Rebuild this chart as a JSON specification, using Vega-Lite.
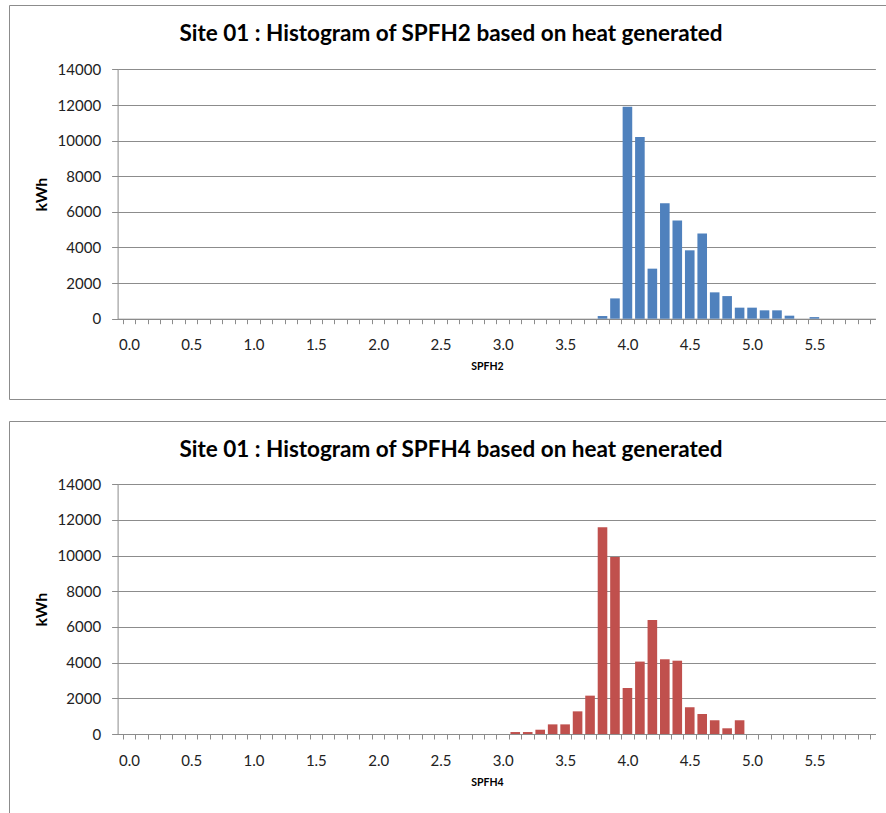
{
  "$schema": "https://vega.github.io/schema/vega-lite/v6.json",
  "padding": {"left": 8, "top": 4, "right": 0, "bottom": 0},
  "background": "white",
  "spacing": 20,
  "datasets": {
    "spfh2": [
      {"SPFH2": 3.8, "kWh": 150},
      {"SPFH2": 3.9, "kWh": 1140},
      {"SPFH2": 4.0, "kWh": 11900},
      {"SPFH2": 4.1, "kWh": 10200},
      {"SPFH2": 4.2, "kWh": 2810},
      {"SPFH2": 4.3, "kWh": 6480},
      {"SPFH2": 4.4, "kWh": 5520},
      {"SPFH2": 4.5, "kWh": 3840},
      {"SPFH2": 4.6, "kWh": 4790},
      {"SPFH2": 4.7, "kWh": 1480},
      {"SPFH2": 4.8, "kWh": 1270},
      {"SPFH2": 4.9, "kWh": 620},
      {"SPFH2": 5.0, "kWh": 620},
      {"SPFH2": 5.1, "kWh": 470},
      {"SPFH2": 5.2, "kWh": 470},
      {"SPFH2": 5.3, "kWh": 170},
      {"SPFH2": 5.5, "kWh": 90}
    ],
    "spfh4": [
      {"SPFH4": 3.1, "kWh": 110},
      {"SPFH4": 3.2, "kWh": 110},
      {"SPFH4": 3.3, "kWh": 240},
      {"SPFH4": 3.4, "kWh": 540},
      {"SPFH4": 3.5, "kWh": 540},
      {"SPFH4": 3.6, "kWh": 1270},
      {"SPFH4": 3.7, "kWh": 2150},
      {"SPFH4": 3.8, "kWh": 11590},
      {"SPFH4": 3.9, "kWh": 9930},
      {"SPFH4": 4.0, "kWh": 2580},
      {"SPFH4": 4.1, "kWh": 4060},
      {"SPFH4": 4.2, "kWh": 6390},
      {"SPFH4": 4.3, "kWh": 4190},
      {"SPFH4": 4.4, "kWh": 4110},
      {"SPFH4": 4.5, "kWh": 1500},
      {"SPFH4": 4.6, "kWh": 1120},
      {"SPFH4": 4.7, "kWh": 770},
      {"SPFH4": 4.8, "kWh": 320},
      {"SPFH4": 4.9, "kWh": 770}
    ]
  },
  "vconcat": [
    {
      "width": 878,
      "height": 394,
      "title": {"text": "Site 01 : Histogram of SPFH2 based on heat generated", "offset": -40, "dx": 3},
      "data": {"name": "spfh2"},
      "mark": {"type": "bar", "width": 9.6, "xOffset": 6.3, "color": "#4F81BD"},
      "encoding": {
        "x": {
          "field": "SPFH2", "type": "quantitative",
          "scale": {"domain": [0, 6], "range": [108.6, 866.4], "nice": false, "zero": false},
          "axis": {
            "title": "SPFH2", "offset": -80.3, "grid": false,
            "values": [0,0.1,0.2,0.3,0.4,0.5,0.6,0.7,0.8,0.9,1,1.1,1.2,1.3,1.4,1.5,1.6,1.7,1.8,1.9,2,2.1,2.2,2.3,2.4,2.5,2.6,2.7,2.8,2.9,3,3.1,3.2,3.3,3.4,3.5,3.6,3.7,3.8,3.9,4,4.1,4.2,4.3,4.4,4.5,4.6,4.7,4.8,4.9,5,5.1,5.2,5.3,5.4,5.5,5.6,5.7,5.8,5.9,6],
            "labelExpr": "abs(datum.value*10 - round(datum.value*2)*5) < 0.01 && datum.value < 5.95 ? format(datum.value, '.1f') : ''",
            "labelOffset": 6.3, "labelPadding": 14, "tickSize": 5,
            "labelFlush": false, "labelOverlap": false, "labelBound": false,
            "titleX": 478, "titleY": 48, "titleBaseline": "middle", "titleFontSize": 10.5
          }
        },
        "y": {
          "field": "kWh", "type": "quantitative",
          "scale": {"domain": [0, 14000], "range": [313.7, 64.4], "nice": false},
          "axis": {
            "title": "kWh", "offset": -108.6, "grid": true, "format": "d",
            "values": [0,2000,4000,6000,8000,10000,12000,14000],
            "tickSize": 6, "labelPadding": 11,
            "titleX": -76, "titleBaseline": "middle", "titleFontSize": 16
          }
        }
      }
    },
    {
      "width": 878,
      "height": 393,
      "title": {"text": "Site 01 : Histogram of SPFH4 based on heat generated", "offset": -40, "dx": 3},
      "data": {"name": "spfh4"},
      "mark": {"type": "bar", "width": 9.6, "xOffset": 6.3, "color": "#C0504D"},
      "encoding": {
        "x": {
          "field": "SPFH4", "type": "quantitative",
          "scale": {"domain": [0, 6], "range": [108.6, 866.4], "nice": false, "zero": false},
          "axis": {
            "title": "SPFH4", "offset": -80, "grid": false,
            "values": [0,0.1,0.2,0.3,0.4,0.5,0.6,0.7,0.8,0.9,1,1.1,1.2,1.3,1.4,1.5,1.6,1.7,1.8,1.9,2,2.1,2.2,2.3,2.4,2.5,2.6,2.7,2.8,2.9,3,3.1,3.2,3.3,3.4,3.5,3.6,3.7,3.8,3.9,4,4.1,4.2,4.3,4.4,4.5,4.6,4.7,4.8,4.9,5,5.1,5.2,5.3,5.4,5.5,5.6,5.7,5.8,5.9,6],
            "labelExpr": "abs(datum.value*10 - round(datum.value*2)*5) < 0.01 && datum.value < 5.95 ? format(datum.value, '.1f') : ''",
            "labelOffset": 6.3, "labelPadding": 14, "tickSize": 5,
            "labelFlush": false, "labelOverlap": false, "labelBound": false,
            "titleX": 478, "titleY": 48, "titleBaseline": "middle", "titleFontSize": 10.5
          }
        },
        "y": {
          "field": "kWh", "type": "quantitative",
          "scale": {"domain": [0, 14000], "range": [313, 63.3], "nice": false},
          "axis": {
            "title": "kWh", "offset": -108.6, "grid": true, "format": "d",
            "values": [0,2000,4000,6000,8000,10000,12000,14000],
            "tickSize": 6, "labelPadding": 11,
            "titleX": -76, "titleBaseline": "middle", "titleFontSize": 16
          }
        }
      }
    }
  ],
  "config": {
    "font": "Lato",
    "view": {"stroke": "#8c8c8c", "strokeWidth": 1},
    "title": {"font": "Lato", "fontSize": 22.5, "fontWeight": "bold", "color": "#000000", "anchor": "middle"},
    "axis": {
      "labelFont": "Lato", "labelFontSize": 15, "labelColor": "#222222",
      "titleFont": "Lato", "titleFontWeight": "bold", "titleColor": "#000000",
      "domainColor": "#8c8c8c", "tickColor": "#8c8c8c", "gridColor": "#8c8c8c",
      "domainWidth": 1, "tickWidth": 1, "gridWidth": 1
    }
  }
}
